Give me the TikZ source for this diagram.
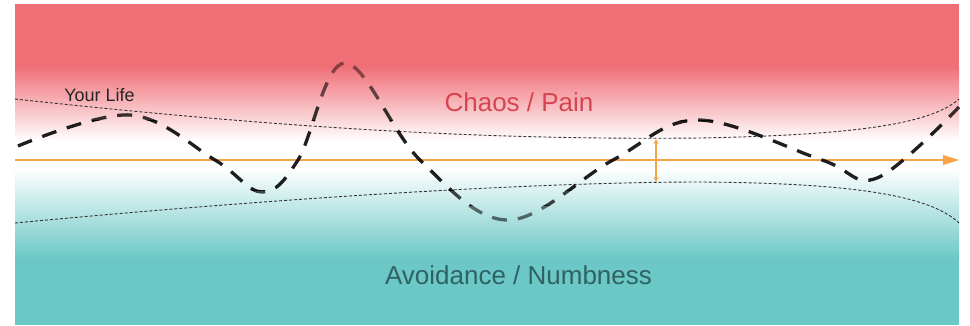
\documentclass[tikz,border=0pt]{standalone}
\usepackage{fontspec}
\setmainfont{Liberation Sans}
\usetikzlibrary{arrows.meta}

\definecolor{chaosred}{HTML}{F06E76}
\definecolor{chaostext}{HTML}{D6454F}
\definecolor{numbteal}{HTML}{6BC8C6}
\definecolor{numbtext}{HTML}{2F6262}
\definecolor{lifeorange}{HTML}{F5A44A}

\begin{document}
\begin{tikzpicture}[x=1pt,y=-1pt,
  border/.style={draw=black!80, line width=0.9pt, dash pattern=on 3pt off 2pt},
  wave/.style={draw=black, line width=3.3pt, dash pattern=on 15pt off 11pt},
  label/.style={inner sep=0pt, anchor=base, font=\fontsize{26}{26}\selectfont}]
\useasboundingbox (0,0) rectangle (970,325);
% background
\fill[chaosred] (15,4) rectangle (959,66.5);
\shade[top color=chaosred, bottom color=white] (15,66) rectangle (959,140.5);
\fill[white] (15,140) rectangle (959,168.5);
\shade[top color=white, bottom color=numbteal] (15,168) rectangle (959,258.5);
\fill[numbteal] (15,258) rectangle (959,325);

\coordinate (ul) at (15,99);
\coordinate (um) at (700,138);
\coordinate (ur) at (959,99);
\coordinate (ll) at (15,223);
\coordinate (lm) at (700,182);
\coordinate (lr) at (959,223);
\draw[border] (ul) .. controls (300,130) and (500,140) .. (um) .. controls (850,135) and (930,125) .. (ur);
\draw[border] (ll) .. controls (300,196) and (550,182) .. (lm) .. controls (850,183) and (930,195) .. (lr);

\coordinate (s) at (15,160);
\coordinate (e) at (959,160);
\draw[lifeorange, line width=1.5pt, -{Triangle[length=16pt,width=10pt]}] (s) -- (e);
\coordinate (up) at (656,139);
\coordinate (lo) at (656,182);
\draw[lifeorange, line width=1.2pt, {Stealth[length=5pt,width=5pt]}-{Stealth[length=5pt,width=5pt]}] (up) -- (lo);

% the wave gets lighter away from the middle
\foreach \ya/\yb/\op in {0/80/0.45, 80/100/0.6, 100/120/0.78, 120/190/0.88, 190/205/0.72, 205/325/0.55}{
  \begin{scope}
    \clip (0,\ya) rectangle (970,\yb);
    \draw[wave, draw opacity=\op] plot[smooth, tension=0.6] coordinates {(18,146) (130,115) (215,160) (262,192) (298,160) (345,63) (420,160) (508,220) (613,160) (698,120) (822,160) (877,178) (959,107)};
  \end{scope}
}

\node[label, text=black!85, font=\fontsize{18}{18}\selectfont] (life) at (99.5,101.7) {Your Life};
\node[label, text=chaostext] (chaos) at (519,111.7) {Chaos / Pain};
\node[label, text=numbtext] (numb) at (518.5,284) {Avoidance / Numbness};
\end{tikzpicture}
\end{document}
